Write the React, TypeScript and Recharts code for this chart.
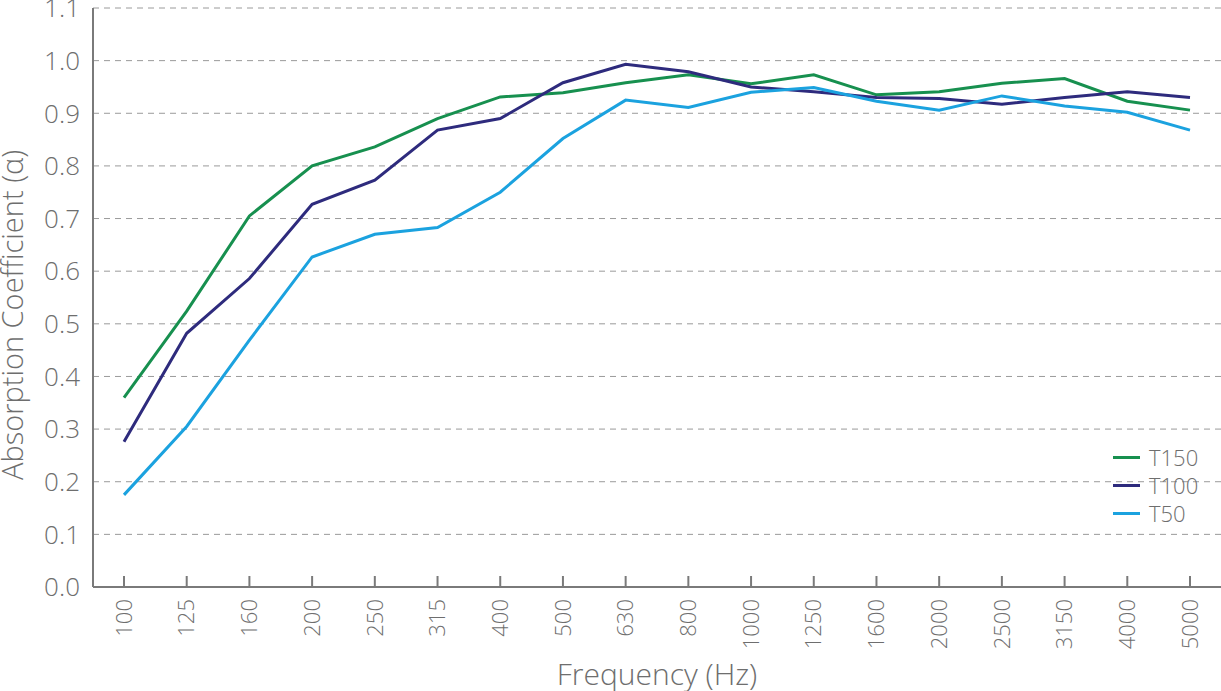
import React from 'react';
import { LineChart, Line, XAxis, YAxis, CartesianGrid, Label } from 'recharts';

const frequencies = ['100', '125', '160', '200', '250', '315', '400', '500', '630', '800', '1000', '1250', '1600', '2000', '2500', '3150', '4000', '5000'];

const t150 = [0.36, 0.524, 0.705, 0.8, 0.836, 0.89, 0.931, 0.939, 0.958, 0.973, 0.956, 0.973, 0.935, 0.941, 0.957, 0.966, 0.923, 0.906];
const t100 = [0.276, 0.482, 0.586, 0.727, 0.773, 0.868, 0.89, 0.958, 0.993, 0.979, 0.95, 0.941, 0.93, 0.928, 0.917, 0.93, 0.941, 0.93];
const t50 = [0.175, 0.305, 0.469, 0.627, 0.67, 0.683, 0.75, 0.852, 0.925, 0.911, 0.94, 0.949, 0.923, 0.906, 0.933, 0.914, 0.902, 0.868];

const yTicks = [0, 0.1, 0.2, 0.3, 0.4, 0.5, 0.6, 0.7, 0.8, 0.9, 1.0, 1.1];

const series = [
  { key: 'T150', color: '#17904f' },
  { key: 'T100', color: '#2e2b7d' },
  { key: 'T50', color: '#1ba2df' },
];

const data = frequencies.map((f, i) => ({ freq: f, T150: t150[i], T100: t100[i], T50: t50[i] }));

const FONT = '"Open Sans", "DejaVu Sans", sans-serif';
const TEXT = '#6e6e6e';
const AXIS = '#7a7a7a';

const FreqTick = (props: any) => {
  const { x, y, payload } = props;
  return (
    <g>
      <line x1={x} y1={y - 11} x2={x} y2={y} stroke={AXIS} strokeWidth={2} />
      <text
        x={x}
        y={y + 12}
        dy="0.35em"
        transform={`rotate(-90, ${x}, ${y + 12})`}
        textAnchor="end"
        fill={TEXT}
        fontSize={22}
        fontFamily={FONT}
        fontWeight={300}
      >
        {payload.value}
      </text>
    </g>
  );
};

const YTitle = (props: any) => {
  const { viewBox } = props;
  const x = viewBox.x + 13;
  const y = 315;
  return (
    <text
      x={x}
      y={y}
      dy="0.35em"
      transform={`rotate(-90, ${x}, ${y})`}
      textAnchor="middle"
      fill={TEXT}
      fontSize={29}
      fontFamily={FONT}
      fontWeight={300}
    >
      Absorption Coefficient (α)
    </text>
  );
};

const XTitle = (props: any) => {
  const { viewBox } = props;
  const x = viewBox.x + viewBox.width / 2;
  const y = 674;
  return (
    <text x={x} y={y} dy="0.35em" textAnchor="middle" fill={TEXT} fontSize={30} fontFamily={FONT} fontWeight={300}>
      Frequency (Hz)
    </text>
  );
};

export default function App() {
  return (
    <div style={{ position: 'absolute', left: 0, top: 0, width: 1221, height: 691, background: '#fff' }}>
      <LineChart width={1221} height={691} data={data} margin={{ top: 8, right: 0, left: 0, bottom: 0 }}>
        <CartesianGrid horizontal vertical={false} stroke="#9a9a9a" strokeDasharray="6 5" />
        <XAxis
          dataKey="freq"
          height={104}
          padding={{ left: 31, right: 31 }}
          tick={<FreqTick />}
          tickLine={false}
          tickSize={0}
          tickMargin={0}
          interval={0}
          axisLine={{ stroke: AXIS, strokeWidth: 2 }}
        >
          <Label content={<XTitle />} />
        </XAxis>
        <YAxis
          width={93}
          domain={[0, 1.1]}
          ticks={yTicks}
          interval={0}
          tickFormatter={(v: number) => v.toFixed(1)}
          tick={{ fill: TEXT, fontSize: 26, fontFamily: FONT, fontWeight: 300 }}
          tickLine={false}
          tickSize={0}
          tickMargin={13}
          axisLine={{ stroke: AXIS, strokeWidth: 2 }}
        >
          <Label content={<YTitle />} />
        </YAxis>
        {series.map((s) => (
          <Line
            key={s.key}
            type="linear"
            dataKey={s.key}
            stroke={s.color}
            strokeWidth={3}
            dot={false}
            activeDot={false}
            isAnimationActive={false}
          />
        ))}
      </LineChart>
      <div
        style={{
          position: 'absolute',
          left: 1113,
          top: 443,
          fontFamily: FONT,
          fontWeight: 300,
          fontSize: 22,
          color: TEXT,
          lineHeight: '28px',
        }}
      >
        {series.map((s) => (
          <div key={s.key} style={{ display: 'flex', alignItems: 'center', height: 28 }}>
            <span style={{ display: 'inline-block', width: 27, height: 3, background: s.color, marginRight: 9 }} />
            <span>{s.key}</span>
          </div>
        ))}
      </div>
    </div>
  );
}
